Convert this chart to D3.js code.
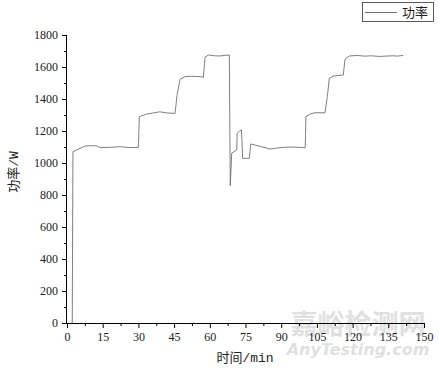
<!DOCTYPE html>
<html>
<head>
<meta charset="utf-8">
<script src="https://cdn.jsdelivr.net/npm/d3@7"></script>
<style>
  body { margin: 0; background: #fff; }
</style>
</head>
<body>
<div id="chart"></div>
<script>
// power curve
var timeMin = [2.2, 2.5, 3.9, 7.6, 10.0, 12.5, 13.9, 18.1, 22.3, 26.5, 30.0,
    30.4, 33.5, 36.0, 39.0, 41.9, 45.4, 46.2, 47.5, 49.6, 52.5, 55.9, 57.3,
    58.0, 59.4, 62.0, 64.3, 66.5, 68.2, 68.6, 69.2, 71.3, 71.5, 72.6, 73.3,
    73.8, 76.6, 77.2, 79.0, 81.8, 85.3, 89.5, 93.7, 97.0, 100.1,
    100.4, 102.1, 104.2, 108.4, 109.4, 110.2, 111.9, 116.1,
    116.8, 118.6, 122.0, 125.0, 128.0, 131.0, 134.0, 137.0, 139.0, 141.3];
var powerW = [0, 1070, 1081, 1106, 1108, 1108, 1096, 1098, 1102, 1096, 1098,
    1290, 1306, 1312, 1320, 1313, 1310, 1420, 1523, 1540, 1542, 1540, 1535,
    1660, 1675, 1670, 1669, 1673, 1675, 858, 1062, 1081, 1185, 1202, 1206,
    1029, 1029, 1119, 1112, 1102, 1087, 1096, 1100, 1098, 1096,
    1290, 1306, 1314, 1314, 1415, 1529, 1544, 1550,
    1648, 1669, 1672, 1668, 1670, 1666, 1668, 1670, 1668, 1673];

var xTicks = [0, 15, 30, 45, 60, 75, 90, 105, 120, 135, 150];
var yTicks = [0, 200, 400, 600, 800, 1000, 1200, 1400, 1600, 1800];
var seriesName = "功率";

var w = 439, h = 369;
var cjk = "'Liberation Mono', 'Noto Sans CJK SC', monospace";

var xScale = d3.scaleLinear().domain([0, 150]).range([67, 424]);
var yScale = d3.scaleLinear().domain([0, 1800]).range([323, 35]);

var svg = d3.select("#chart").append("svg")
    .attr("width", w).attr("height", h);

// watermark
svg.append("text")
    .attr("x", 358).attr("y", 334)
    .attr("text-anchor", "middle")
    .attr("font-size", 27).attr("font-weight", "bold")
    .attr("fill", "#e0e0e0")
    .attr("font-family", "Noto Sans CJK SC")
    .text("嘉峪检测网");
svg.append("text")
    .attr("x", 358).attr("y", 355)
    .attr("text-anchor", "middle")
    .attr("font-size", 16).attr("font-weight", "bold").attr("font-style", "italic")
    .attr("fill", "#e0e0e0")
    .attr("font-family", "DejaVu Sans")
    .text("AnyTesting.com");

//Line
var line = d3.line()
    .x(function(d, i) { return xScale(timeMin[i]); })
    .y(function(d) { return yScale(d); });

svg.append("path")
    .datum(powerW)
    .attr("fill", "none")
    .attr("stroke", "#707070")
    .attr("stroke-width", 0.9)
    .attr("d", line);

//X axis
var xAxis = d3.axisBottom(xScale).tickValues(xTicks).tickSize(5).tickPadding(4)
    .tickFormat(d3.format("d"));
var xMinor = d3.axisBottom(xScale).tickValues(d3.range(7.5, 150, 15)).tickSize(3).tickFormat("");
svg.append("g").attr("class", "axis").attr("transform", "translate(0,323)").call(xAxis);
svg.append("g").attr("class", "axis").attr("transform", "translate(0,323)").call(xMinor);

//Y axis
var yAxis = d3.axisLeft(yScale).tickValues(yTicks).tickSize(5).tickPadding(4)
    .tickFormat(d3.format("d"));
var yMinor = d3.axisLeft(yScale).tickValues(d3.range(100, 1800, 200)).tickSize(3).tickFormat("");
svg.append("g").attr("class", "axis").attr("transform", "translate(67,0)").call(yAxis);
svg.append("g").attr("class", "axis").attr("transform", "translate(67,0)").call(yMinor);

svg.selectAll(".axis .domain").remove();
svg.selectAll(".tick line").attr("stroke", "#000");
svg.selectAll(".tick text")
    .attr("fill", "#222")
    .attr("font-family", "Liberation Serif")
    .attr("font-size", 12)
    .style("font-family", "'Liberation Serif', serif")
    .style("font-size", "12px");

svg.append("line").attr("x1", 67).attr("x2", 424).attr("y1", 323.5).attr("y2", 323.5)
    .attr("stroke", "#000");
svg.append("line").attr("x1", 66.5).attr("x2", 66.5).attr("y1", 35).attr("y2", 323.5)
    .attr("stroke", "#000");

// axis titles
svg.append("text")
    .attr("x", 245).attr("y", 362)
    .attr("text-anchor", "middle")
    .attr("font-size", 13).attr("fill", "#222")
    .attr("font-family", cjk)
    .text("时间/min");
svg.append("text")
    .attr("transform", "translate(18,172) rotate(-90)")
    .attr("text-anchor", "middle")
    .attr("font-size", 13).attr("fill", "#222")
    .attr("font-family", cjk)
    .text("功率/W");

// legend
var legend = svg.append("g");
legend.append("rect")
    .attr("x", 362.5).attr("y", 2.5).attr("width", 71).attr("height", 19)
    .attr("fill", "#fff").attr("stroke", "#333").attr("stroke-width", 0.8);
legend.append("line")
    .attr("x1", 365).attr("x2", 397).attr("y1", 12.5).attr("y2", 12.5)
    .attr("stroke", "#707070");
legend.append("text")
    .attr("x", 402).attr("y", 17)
    .attr("font-size", 13).attr("fill", "#222")
    .attr("font-family", "Noto Sans CJK SC")
    .text(seriesName);
</script>
</body>
</html>
